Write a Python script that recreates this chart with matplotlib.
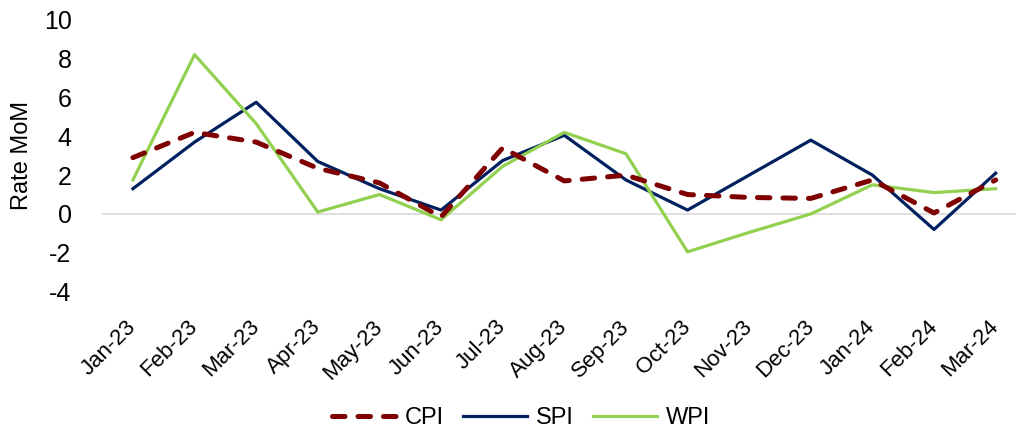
import numpy as np
import matplotlib
matplotlib.use('Agg')
import matplotlib.pyplot as plt

months = ['Jan-23', 'Feb-23', 'Mar-23', 'Apr-23', 'May-23', 'Jun-23', 'Jul-23',
          'Aug-23', 'Sep-23', 'Oct-23', 'Nov-23', 'Dec-23', 'Jan-24', 'Feb-24', 'Mar-24']

cpi = [2.9, 4.2, 3.7, 2.35, 1.6, -0.15, 3.4, 1.7, 2.0, 1.0, 0.85, 0.8, 1.75, 0.05, 1.75]
spi = [1.3, 3.7, 5.75, 2.7, 1.3, 0.2, 2.75, 4.05, 1.75, 0.2, 2.0, 3.8, 2.0, -0.8, 2.1]
wpi = [1.75, 8.2, 4.65, 0.1, 1.0, -0.3, 2.45, 4.2, 3.1, -1.95, -0.95, 0.0, 1.5, 1.1, 1.3]

yticks = [-4, -2, 0, 2, 4, 6, 8, 10]

plt.rcParams['font.family'] = ['Liberation Sans', 'DejaVu Sans']

dpi = 100
w = 1016
h = 434

fig = plt.figure(figsize=(w/dpi, h/dpi), dpi=dpi)
ax = fig.add_axes([0.1005, 0.328, 0.8995, 0.6266])

x = np.arange(len(months))

ax.axhline(0, color='#D9D9D9', lw=1.2, zorder=1)

ax.plot(x, cpi, color='#7F0000', lw=3.6, dashes=(2.5, 2.6),
        dash_capstyle='round', label='CPI', zorder=3)
ax.plot(x, spi, color='#002060', lw=2.3, label='SPI', zorder=2)
ax.plot(x, wpi, color='#92D050', lw=2.3, label='WPI', zorder=2)

ax.set_xlim(-0.5, 14.33)
ax.set_ylim(-4, 10)
ax.set_yticks(yticks)
ax.set_yticklabels([str(v) for v in yticks], fontsize=18)
ax.set_xticks(x)
ax.set_xticklabels(months, fontsize=16, rotation=45, ha='right', va='center',
                   rotation_mode='anchor')
ax.tick_params(axis='both', length=0)
ax.tick_params(axis='y', pad=22)
ax.tick_params(axis='x', pad=23)

for s in ax.spines.values():
    s.set_visible(False)

ax.set_ylabel('Rate MoM', fontsize=17, labelpad=8)

fig.legend(loc='center', bbox_to_anchor=(0.513, 0.037), ncol=3, frameon=False,
           fontsize=17, handlelength=2.7, columnspacing=0.8, handletextpad=0.4)

fig.savefig('out.png', dpi=dpi)
